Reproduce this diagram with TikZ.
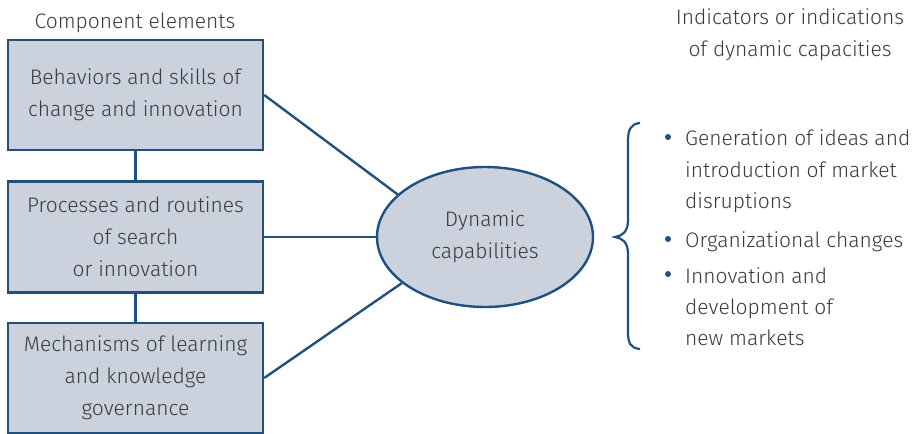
\documentclass[tikz,border=0pt]{standalone}
\usepackage{fontspec}
\setmainfont{Fira Sans Light}
\usetikzlibrary{shapes.geometric}
\definecolor{edgeblue}{HTML}{22507E}
\definecolor{boxfill}{HTML}{CBD2DD}
\definecolor{txtgray}{HTML}{3A3A3A}
\begin{document}
\begin{tikzpicture}[x=1pt,y=-1pt,
  txt/.style={text=txtgray, font=\fontsize{21}{32}\selectfont, inner sep=0pt},
  box/.style={txt, draw=edgeblue, line width=2.4pt, fill=boxfill, align=center,
              minimum width=255pt, minimum height=110pt},
  ell/.style={txt, ellipse, draw=edgeblue, line width=2.4pt, fill=boxfill, align=center,
              minimum width=216pt, minimum height=140pt},
  link/.style={draw=edgeblue, line width=2.4pt},
  line/.style={txt, anchor=base west},
  head/.style={txt, anchor=base, align=center},
  bul/.style={circle, fill=edgeblue, inner sep=0pt, minimum size=6pt}]
\useasboundingbox (0,0) rectangle (922,434);

\node[head] (h1) at (135,28) {Component elements};
\node[txt, align=center, anchor=north] (h2) at (790,8) {Indicators or indications\\of dynamic capacities};

\node[box] (b1) at (135.5,95) {Behaviors and skills of\\change and innovation};
\node[box, minimum height=111pt] (b2) at (135.5,237) {Processes and routines\\of search\\or innovation};
\node[box] (b3) at (135.5,378) {Mechanisms of learning\\and knowledge\\governance};

\node[ell] (dc) at (485,237) {Dynamic\\capabilities};

\draw[link] (b1) -- (b2);
\draw[link] (b2) -- (b3);
\draw[link] (b1.east) -- (dc.154);
\draw[link] (b2.east) -- (dc.west);
\draw[link] (b3.east) -- (dc.209);

\draw[edgeblue, line width=2.2pt]
  (640,123) .. controls (630,124) and (628,130) .. (628,142)
  -- (628,220) .. controls (628,232) and (622,236) .. (615,237)
  .. controls (622,238) and (628,242) .. (628,254)
  -- (628,331) .. controls (628,343) and (630,348) .. (640,349);

\node[bul] (d1) at (668,137) {};
\node[bul] (d2) at (668,239) {};
\node[bul] (d3) at (668,274) {};

\node[line] (l1) at (685,145) {Generation of ideas and};
\node[line] (l2) at (685,177) {introduction of market};
\node[line] (l3) at (685,208) {disruptions};
\node[line] (l4) at (685,247) {Organizational changes};
\node[line] (l5) at (685,283) {Innovation and};
\node[line] (l6) at (685,314) {development of};
\node[line] (l7) at (685,345) {new markets};
\end{tikzpicture}
\end{document}
